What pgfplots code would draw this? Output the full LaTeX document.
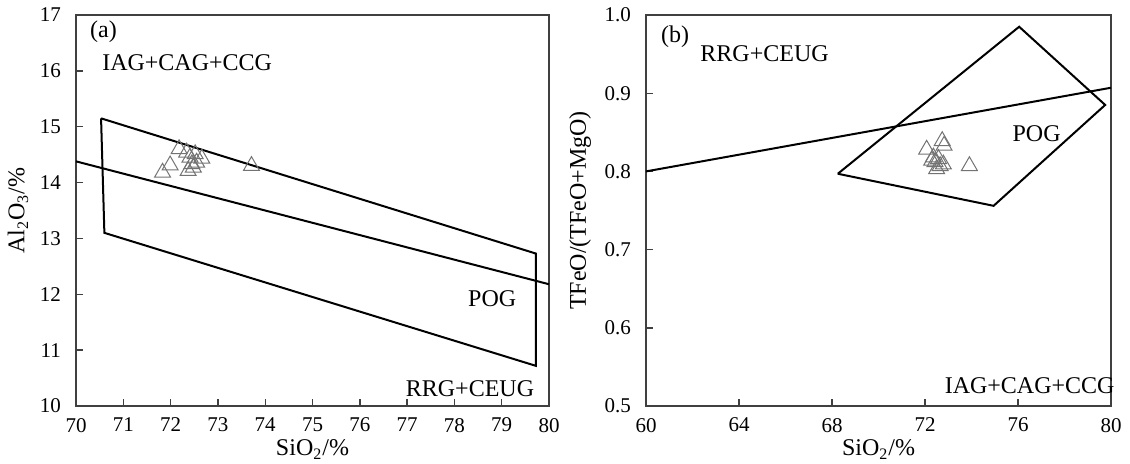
\documentclass[border=0pt]{standalone}
\usepackage{fontspec}
\setmainfont{Liberation Serif}
\usepackage{pgfplots}
\pgfplotsset{compat=1.18}

\pgfplotsset{
  diag/.style={
    scale only axis,
    axis line style={draw=black!75, line width=0.8pt},
    tick align=inside,
    xtick pos=bottom, ytick pos=left,
    major tick length=3.5pt,
    tick style={black!75, line width=0.7pt},
    tick label style={font=\fontsize{10.5}{12}\selectfont},
    xticklabel style={yshift=-2.5pt},
    yticklabel style={xshift=-4pt},
    label style={font=\fontsize{12}{14}\selectfont},
    /pgf/number format/assume math mode=true,
    clip=false,
  },
  field/.style={black, line width=1pt, no marks},
  samp/.style={only marks, mark=triangle, mark size=4.6pt,
    mark options={draw=black!55, line width=0.5pt}},
}

\begin{document}
\begin{tikzpicture}
\path[use as bounding box] (0,0) rectangle (565pt,231.5pt);

% (a) Al2O3 vs SiO2
\begin{axis}[diag,
  at={(38pt,28.5pt)}, anchor=south west,
  width=236.5pt, height=195.5pt,
  xmin=70, xmax=80, ymin=10, ymax=17,
  xtick={70,71,...,80}, ytick={10,11,...,17},
  xlabel={SiO\textsubscript{2}/\%},
  ylabel={Al\textsubscript{2}O\textsubscript{3}/\%},
  xlabel style={yshift=3pt},
  ylabel style={yshift=-1pt},
]
\addplot[field] coordinates {(70.53,15.15) (79.72,12.73) (79.72,10.72) (70.6,13.1) (70.53,15.15)};
\addplot[field] coordinates {(70,14.38) (80,12.18)};
\addplot[samp] coordinates {
  (71.83,14.18) (71.99,14.31) (72.18,14.60) (72.34,14.54)
  (72.41,14.45) (72.52,14.51) (72.66,14.43) (72.37,14.21)
  (72.48,14.27) (72.55,14.36) (72.45,14.33) (73.71,14.30)
};
\node[font=\fontsize{12}{14}\selectfont, anchor=west] at (axis cs:70.15,16.7) {(a)};
\node[font=\fontsize{12}{14}\selectfont] at (axis cs:72.35,16.15) {IAG+CAG+CCG};
\node[font=\fontsize{12}{14}\selectfont] at (axis cs:78.8,11.93) {POG};
\node[font=\fontsize{12}{14}\selectfont] at (axis cs:78.33,10.31) {RRG+CEUG};
\end{axis}

% (b) TFeO/(TFeO+MgO) vs SiO2
\begin{axis}[diag,
  at={(323pt,28.5pt)}, anchor=south west,
  width=232.5pt, height=195.5pt,
  xmin=60, xmax=80, ymin=0.5, ymax=1.0,
  xtick={60,64,...,80}, ytick={0.5,0.6,...,1.0},
  yticklabel style={/pgf/number format/.cd, fixed, fixed zerofill, precision=1},
  xlabel={SiO\textsubscript{2}/\%},
  ylabel={TFeO/(TFeO+MgO)},
  xlabel style={yshift=3pt},
  ylabel style={yshift=0pt},
]
\addplot[field] coordinates {(68.25,0.797) (76.05,0.985) (79.75,0.885) (74.95,0.756) (68.25,0.797)};
\addplot[field] coordinates {(60,0.800) (80,0.907)};
\addplot[samp] coordinates {
  (72.07,0.828) (72.74,0.839) (72.82,0.833) (72.36,0.818)
  (72.58,0.816) (72.43,0.812) (72.65,0.807) (72.50,0.803)
  (72.79,0.809) (72.29,0.814) (73.91,0.807)
};
\node[font=\fontsize{12}{14}\selectfont, anchor=west] at (axis cs:60.35,0.972) {(b)};
\node[font=\fontsize{12}{14}\selectfont] at (axis cs:65.1,0.950) {RRG+CEUG};
\node[font=\fontsize{12}{14}\selectfont] at (axis cs:76.8,0.848) {POG};
\node[font=\fontsize{12}{14}\selectfont] at (axis cs:76.5,0.526) {IAG+CAG+CCG};
\end{axis}
\end{tikzpicture}
\end{document}
